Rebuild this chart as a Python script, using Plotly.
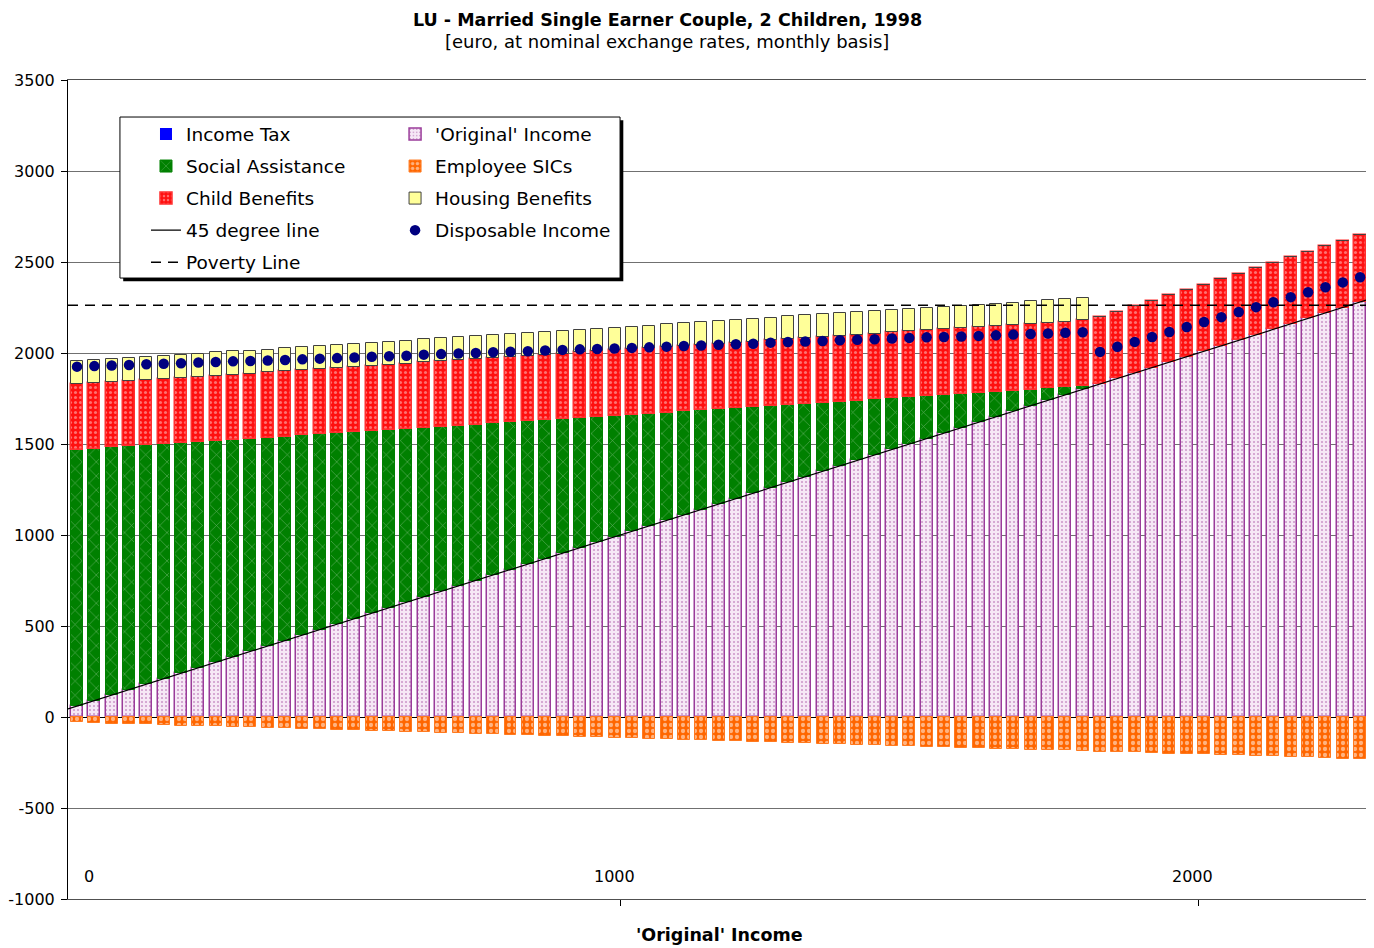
import plotly.graph_objects as go

# ---------------- data ----------------
original = [60, 90, 120, 150, 180, 210, 240, 270, 300, 330,
            360, 390, 420, 450, 480, 510, 540, 570, 600, 630,
            660, 690, 720, 750, 780, 810, 840, 870, 900, 930,
            960, 990, 1020, 1050, 1080, 1110, 1140, 1170, 1200, 1230,
            1260, 1290, 1320, 1350, 1380, 1410, 1440, 1470, 1500, 1530,
            1560, 1590, 1620, 1650, 1680, 1710, 1740, 1770, 1800, 1830,
            1860, 1890, 1920, 1950, 1980, 2010, 2040, 2070, 2100, 2130,
            2160, 2190, 2220, 2250, 2280]

social_assistance = [1409, 1385, 1361, 1337, 1313, 1289, 1265, 1241, 1217, 1193,
                     1169, 1145, 1121, 1097, 1073, 1049, 1025, 1001, 977, 953,
                     929, 905, 881, 857, 833, 809, 785, 761, 737, 713,
                     689, 665, 641, 617, 593, 569, 545, 521, 497, 473,
                     449, 425, 401, 377, 353, 329, 305, 281, 257, 233,
                     209, 185, 161, 137, 113, 89, 65, 41, 17, 0,
                     0, 0, 0, 0, 0, 0, 0, 0, 0, 0,
                     0, 0, 0, 0, 0]

child_benefits = [358, 358, 358, 358, 358, 358, 358, 358, 358, 358,
                  358, 358, 358, 358, 358, 358, 358, 358, 358, 358,
                  360, 360, 360, 360, 360, 360, 360, 360, 360, 360,
                  360, 360, 360, 360, 360, 360, 360, 360, 360, 360,
                  362, 362, 362, 362, 362, 362, 362, 362, 362, 362,
                  362, 362, 362, 362, 362, 362, 362, 362, 362, 366,
                  366, 366, 366, 366, 366, 366, 366, 366, 366, 366,
                  366, 366, 366, 366, 366]

housing_benefits = [128, 128, 128, 128, 128, 128, 128, 128, 128, 128,
                    126, 126, 126, 126, 126, 126, 126, 126, 126, 126,
                    126, 126, 126, 126, 126, 126, 126, 126, 126, 126,
                    124, 124, 124, 124, 124, 124, 124, 124, 124, 124,
                    124, 124, 124, 124, 124, 124, 124, 124, 124, 124,
                    122, 122, 122, 122, 122, 122, 122, 122, 122, 0,
                    0, 0, 0, 0, 0, 0, 0, 0, 0, 0,
                    0, 0, 0, 0, 0]

employee_sics = [-30, -33, -36, -39, -41, -44, -47, -49, -52, -55,
                 -57, -60, -63, -66, -68, -71, -74, -76, -79, -82,
                 -84, -87, -90, -93, -95, -98, -101, -103, -106, -109,
                 -111, -114, -117, -120, -122, -125, -128, -130, -133, -136,
                 -138, -141, -144, -147, -149, -152, -155, -157, -160, -163,
                 -165, -168, -171, -174, -176, -179, -182, -184, -187, -190,
                 -192, -195, -198, -201, -203, -206, -209, -211, -214, -217,
                 -219, -222, -225, -228, -230]

income_tax = [0, 0, 0, 0, 0, 0, 0, 0, 0, 0,
              0, 0, 0, 0, 0, 0, 0, 0, 0, 0,
              0, 0, 0, 0, 0, 0, 0, 0, 0, 0,
              0, 0, 0, 0, 0, 0, 0, 0, 0, 0,
              0, 0, 0, 0, 0, 0, 0, 0, 0, 0,
              0, 0, 0, 0, 0, 0, 0, 0, 0, 0,
              0, 0, 0, 0, 0, 0, 0, 0, 0, 0,
              0, 0, 0, 0, 0]

disposable_income = [1925, 1928, 1931, 1934, 1938, 1941, 1944, 1948, 1951, 1954,
                     1956, 1959, 1962, 1965, 1969, 1972, 1975, 1979, 1982, 1985,
                     1991, 1994, 1997, 2000, 2004, 2007, 2010, 2014, 2017, 2020,
                     2022, 2025, 2028, 2031, 2035, 2038, 2041, 2045, 2048, 2051,
                     2057, 2060, 2063, 2066, 2070, 2073, 2076, 2080, 2083, 2086,
                     2088, 2091, 2094, 2097, 2101, 2104, 2107, 2111, 2114, 2006,
                     2034, 2061, 2088, 2115, 2143, 2170, 2197, 2225, 2252, 2279,
                     2307, 2334, 2361, 2388, 2416]

poverty_line = 2262

x_tick_positions = [81, 990, 1990]
x_tick_labels = ["0", "1000", "2000"]
x_tick_marks = [1000, 2000]

y_tick_values = [-1000, -500, 0, 500, 1000, 1500, 2000, 2500, 3000, 3500]
y_tick_labels = ["-1000", "-500", "0", "500", "1000", "1500", "2000", "2500", "3000", "3500"]

title_text = "LU - Married Single Earner Couple, 2 Children, 1998"
subtitle_text = "[euro, at nominal exchange rates, monthly basis]"
x_title_text = "'Original' Income"

# ---------------- figure ----------------
FONT = "DejaVu Sans"
step = original[1] - original[0]
x_range = [original[0] - 0.52 * step, original[-1] + 0.57 * step]
bar_w = 0.69 * step

fig = go.Figure()

fig.add_trace(go.Bar(
    x=original, y=original, name="'Original' Income", width=bar_w,
    marker=dict(color="#f6e8f6", line=dict(color="#9a3c9a", width=1.5),
                pattern=dict(shape=".", fgcolor="#a0409a", bgcolor="#f6e8f6",
                             size=4, solidity=0.2)),
    legend="legend2", legendgroup="orig", legendrank=1))

fig.add_trace(go.Bar(
    x=original, y=social_assistance, name="Social Assistance", width=bar_w,
    marker=dict(color="#008000", line=dict(color="#008000", width=1),
                pattern=dict(shape="x", fgcolor="#b8dcb8", bgcolor="#008000",
                             size=10, solidity=0.12)),
    legend="legend", legendgroup="sa", legendrank=2))

fig.add_trace(go.Bar(
    x=original, y=child_benefits, name="Child Benefits", width=bar_w,
    marker=dict(color="#ff0000", line=dict(color="#ff3030", width=1.5),
                pattern=dict(shape=".", fgcolor="#ffd0d0", bgcolor="#ff1010",
                             size=5, solidity=0.3)),
    legend="legend", legendgroup="cb", legendrank=3))

fig.add_trace(go.Bar(
    x=original, y=housing_benefits, name="Housing Benefits", width=bar_w,
    marker=dict(color="#ffff99", line=dict(color="#404040", width=1)),
    legend="legend2", legendgroup="hb", legendrank=3))

fig.add_trace(go.Bar(
    x=original, y=employee_sics, name="Employee SICs", width=bar_w,
    marker=dict(color="#ff6600", line=dict(color="#ff7a20", width=1),
                pattern=dict(shape=".", fgcolor="#ffffff", bgcolor="#ff6600",
                             size=6, solidity=0.4)),
    legend="legend2", legendgroup="sic", legendrank=2))

fig.add_trace(go.Bar(
    x=original, y=income_tax, name="Income Tax", width=bar_w,
    marker=dict(color="#0000ff", line=dict(color="#0000ff", width=0)),
    legend="legend", legendgroup="tax", legendrank=1))

line_x = [x_range[0]] + original + [x_range[1]]
fig.add_trace(go.Scatter(
    x=line_x, y=line_x, mode="lines", name="45 degree line",
    line=dict(color="#000000", width=1.2),
    legend="legend", legendgroup="deg", legendrank=4))

fig.add_trace(go.Scatter(
    x=x_range, y=[poverty_line, poverty_line], mode="lines", name="Poverty Line",
    line=dict(color="#000000", width=1.6, dash="10px,7px"),
    legend="legend", legendgroup="pov", legendrank=5))

fig.add_trace(go.Scatter(
    x=original, y=disposable_income, mode="markers", name="Disposable Income",
    marker=dict(color="#000080", size=10.5, line=dict(width=0)),
    legend="legend2", legendgroup="di", legendrank=4))

# legend frame with shadow (paper coordinates)
bx0, bx1, by0, by1 = 0.0399, 0.424, 0.7582, 0.9548
fig.add_shape(type="rect", xref="paper", yref="paper", layer="above",
              x0=bx0 + 0.0025, x1=bx1 + 0.0025, y0=by0 - 0.004, y1=by1 - 0.004,
              fillcolor="#000000", line=dict(width=0))
fig.add_shape(type="rect", xref="paper", yref="paper", layer="above",
              x0=bx0, x1=bx1, y0=by0, y1=by1,
              fillcolor="#ffffff", line=dict(color="#000000", width=1))

# page is offset by 8px (body margin) -> figure is 1366x940, plot area 1302x819
PW, PH = 1302, 819
fig.add_annotation(text="<b>" + title_text + "</b>", xref="paper", yref="paper",
                   x=(667 - 68) / PW, y=(891 - 0) / PH, showarrow=False,
                   xanchor="center", yanchor="top",
                   font=dict(family=FONT, size=17.5, color="#000"))
fig.add_annotation(text=subtitle_text, xref="paper", yref="paper",
                   x=(667 - 68) / PW, y=(899 - 42) / PH, showarrow=False,
                   xanchor="center", yanchor="middle",
                   font=dict(family=FONT, size=18, color="#000"))
fig.add_annotation(text="<b>" + x_title_text + "</b>", xref="paper", yref="paper",
                   x=0.5, y=(899 - 935) / PH, showarrow=False,
                   xanchor="center", yanchor="middle",
                   font=dict(family=FONT, size=17.5, color="#000"))
for xv, xt in zip(x_tick_positions, x_tick_labels):
    fig.add_annotation(text=xt, xref="x", yref="paper", x=xv, y=(899 - 876) / PH,
                       showarrow=False, xanchor="center", yanchor="middle",
                       font=dict(family=FONT, size=16, color="#000"))

legend_font = dict(family=FONT, size=18.5, color="#000")
fig.update_layout(
    width=1366, height=940,
    margin=dict(l=60, r=4, t=72, b=49, autoexpand=False),
    paper_bgcolor="#ffffff", plot_bgcolor="#ffffff",
    barmode="relative", bargap=0,
    showlegend=True,
    legend=dict(x=0.0599, y=0.9567, xanchor="left", yanchor="top",
                bgcolor="rgba(0,0,0,0)", borderwidth=0, font=legend_font,
                traceorder="grouped", tracegroupgap=5),
    legend2=dict(x=0.2512, y=0.9567, xanchor="left", yanchor="top",
                 bgcolor="rgba(0,0,0,0)", borderwidth=0, font=legend_font,
                 traceorder="grouped", tracegroupgap=5),
    font=dict(family=FONT, size=16, color="#000"),
    xaxis=dict(range=x_range, showgrid=False, zeroline=False, automargin=False,
               showline=True, linecolor="#505050", linewidth=1, mirror=True,
               showticklabels=False, ticks="",
               minor=dict(tickmode="array", tickvals=x_tick_marks, ticks="outside",
                          ticklen=6, tickcolor="#000", showgrid=False)),
    yaxis=dict(range=[-1000, 3500], tickmode="array", automargin=False,
               tickvals=y_tick_values, ticktext=y_tick_labels,
               showgrid=True, gridcolor="#707070", gridwidth=1,
               zeroline=True, zerolinecolor="#000000", zerolinewidth=1,
               showline=True, linecolor="#000000", linewidth=1,
               ticks="outside", ticklen=6, tickcolor="#000",
               ticklabelstandoff=3,
               tickfont=dict(family=FONT, size=16, color="#000")),
)

fig.write_html("out.html")
